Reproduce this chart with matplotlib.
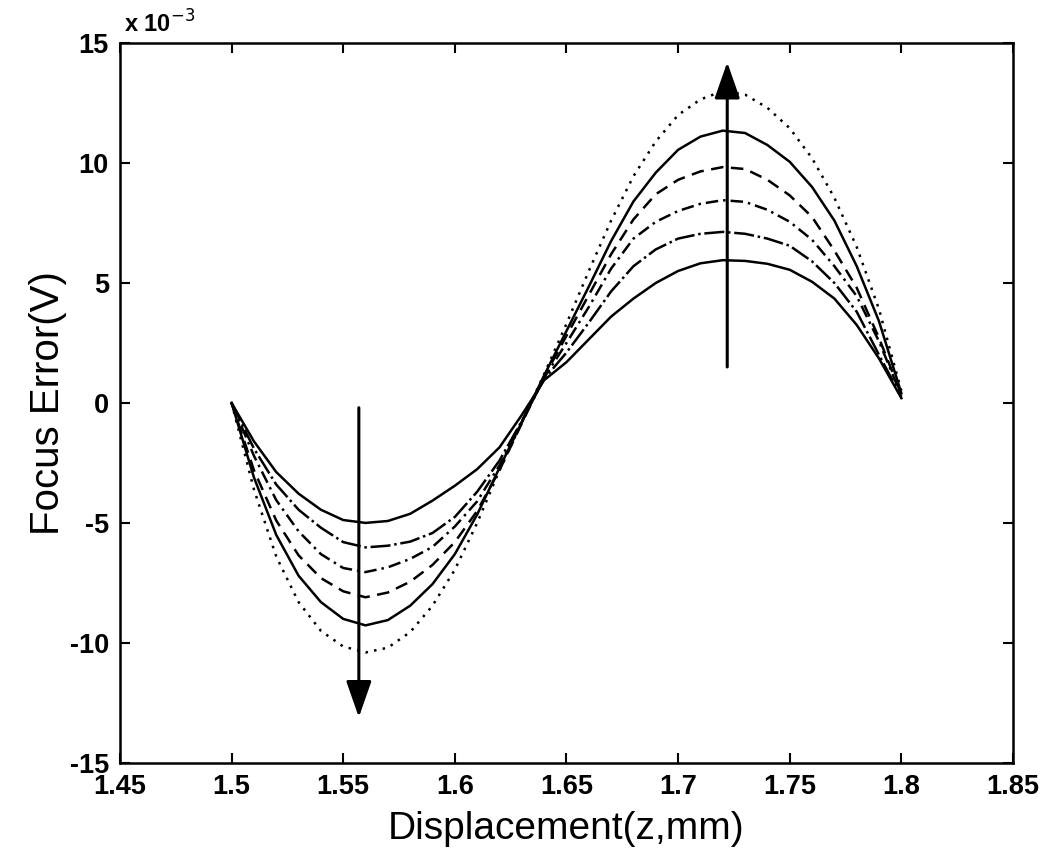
#!/usr/bin/env python3

##
# plot.py
#
# Focus error curves against displacement, six readings with arrows showing the trend.
##
import matplotlib
matplotlib.use('Agg')
import matplotlib.pyplot as plt
import numpy as np

# Displacement samples (mm)
X = np.linspace(1.50, 1.80, 31)

# Focus error readings, in units of 1e-3 V
CURVE_1 = [0, -1.6, -2.88, -3.78, -4.45, -4.88, -5.0, -4.92, -4.62, -4.07, -3.45, -2.76, -1.85, -0.5, 0.95,
           1.7, 2.65, 3.6, 4.35, 5.0, 5.5, 5.82, 5.95, 5.92, 5.8, 5.55, 5.05, 4.35, 3.25, 1.85, 0.2]
CURVE_2 = [0, -1.9, -3.4, -4.45, -5.2, -5.8, -6.02, -5.95, -5.78, -5.42, -4.75, -3.7, -2.4, -0.75, 1.0,
           2.1, 3.35, 4.65, 5.7, 6.4, 6.85, 7.05, 7.13, 7.05, 6.85, 6.55, 5.9, 5.0, 3.8, 2.0, 0.25]
CURVE_3 = [0, -2.2, -4.05, -5.35, -6.3, -6.88, -7.05, -6.85, -6.5, -6.0, -5.15, -4.1, -2.6, -0.8, 1.05,
           2.5, 4.0, 5.6, 6.85, 7.55, 8.0, 8.3, 8.45, 8.38, 8.05, 7.55, 6.8, 5.7, 4.45, 2.56, 0.3]
CURVE_4 = [0, -2.8, -4.9, -6.35, -7.3, -7.85, -8.1, -7.9, -7.45, -6.75, -5.8, -4.5, -2.8, -0.85, 1.1,
           2.8, 4.5, 6.2, 7.65, 8.7, 9.3, 9.65, 9.83, 9.75, 9.3, 8.65, 7.75, 6.35, 4.8, 2.7, 0.35]
CURVE_5 = [0, -3.1, -5.5, -7.2, -8.3, -9.0, -9.27, -9.05, -8.45, -7.55, -6.3, -4.65, -2.7, -0.8, 1.15,
           3.0, 4.85, 6.75, 8.4, 9.6, 10.55, 11.1, 11.35, 11.25, 10.75, 10.05, 9.0, 7.6, 5.7, 3.4, 0.4]
CURVE_6 = [0, -3.6, -6.4, -8.3, -9.5, -10.15, -10.4, -10.2, -9.55, -8.45, -6.95, -5.0, -2.8, -0.8, 1.2,
           3.3, 5.5, 7.6, 9.45, 10.9, 12.0, 12.65, 13.0, 12.85, 12.3, 11.45, 10.2, 8.55, 6.5, 3.9, 0.5]

CURVES = [CURVE_1, CURVE_2, CURVE_3, CURVE_4, CURVE_5, CURVE_6]
STYLES = ['-', (0, (8, 1.5, 1, 1.5)), (0, (5, 2, 1, 2)), (0, (5, 3)), '-', (0, (1, 2.5))]

# Trend arrows: x, start, end (1e-3 V)
ARROW_DOWN = [1.557, -0.2, -13.1]
ARROW_UP = [1.722, 1.5, 14.2]

XTICKS = [1.45, 1.5, 1.55, 1.6, 1.65, 1.7, 1.75, 1.8, 1.85]
XTICKLABELS = ['1.45', '1.5', '1.55', '1.6', '1.65', '1.7', '1.75', '1.8', '1.85']
YTICKS = [-15, -10, -5, 0, 5, 10, 15]
YTICKLABELS = ['-15', '-10', '-5', '0', '5', '10', '15']


plt.rcParams['font.family'] = ['Liberation Sans', 'DejaVu Sans']
plt.rcParams['axes.unicode_minus'] = False
figure = plt.figure(figsize=(10.55, 8.61), dpi=100)
ax = figure.add_axes([0.1137, 0.114, 0.8465, 0.836])

for values, style in zip(CURVES, STYLES):
    ax.plot(X, values, color='black', linestyle=style, linewidth=1.8)

for arrow in [ARROW_DOWN, ARROW_UP]:
    ax.annotate('', xy=(arrow[0], arrow[2]), xytext=(arrow[0], arrow[1]),
                arrowprops=dict(arrowstyle='-|>,head_length=0.8,head_width=0.28', mutation_scale=28,
                                lw=2.2, color='black', shrinkA=0, shrinkB=0))

# Format the plot
ax.set_xlim(1.45, 1.85)
ax.set_ylim(-15, 15)
ax.set_xticks(XTICKS)
ax.set_xticklabels(XTICKLABELS)
ax.set_yticks(YTICKS)
ax.set_yticklabels(YTICKLABELS)
ax.tick_params(direction='in', top=True, right=True, length=7, width=1.5, pad=8,
               labelsize=19.5)
for label in ax.get_xticklabels() + ax.get_yticklabels():
    label.set_fontweight('bold')
for spine in ax.spines.values():
    spine.set_linewidth(1.8)

ax.set_xlabel('Displacement(z,mm)', fontsize=28, labelpad=8)
ax.set_ylabel('Focus Error(V)', fontsize=29, labelpad=2)
ax.text(0.005, 1.008, 'x 10$^{-3}$', transform=ax.transAxes, fontsize=17, fontweight='bold',
        ha='left', va='bottom')

plt.savefig('out.png', dpi=100)
plt.close()
